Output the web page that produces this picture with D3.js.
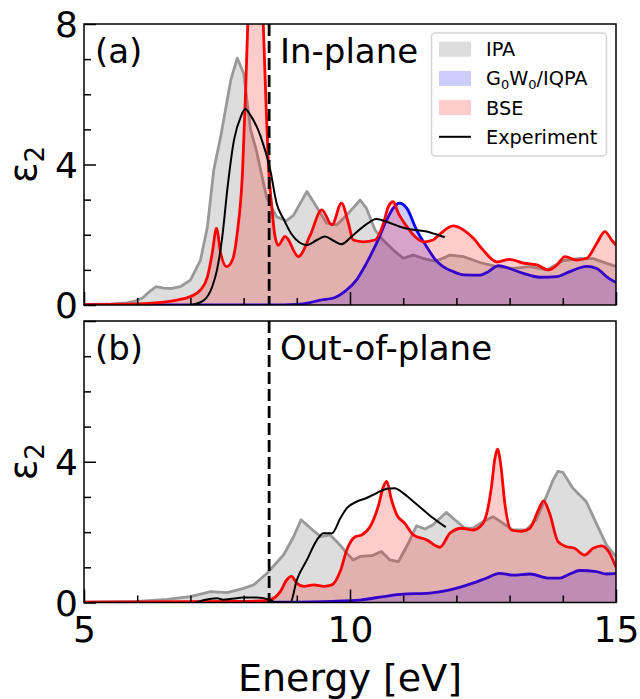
<!DOCTYPE html>
<html>
<head>
<meta charset="utf-8">
<script src="https://cdn.jsdelivr.net/npm/d3@7"></script>
<style>
  html, body { margin: 0; padding: 0; background: #fff; }
  svg { display: block; font-family: "DejaVu Sans", sans-serif; }
</style>
</head>
<body>
<svg id="chart" width="640" height="699"></svg>
<script>
// ---------------- DATA ----------------
const xTickLabels = [5, 10, 15];
const yTickLabels = [0, 4, 8];
const seriesNames = ["IPA", "G0W0/IQPA", "BSE", "Experiment"];
const panelTitles = ["In-plane", "Out-of-plane"];
const panelTags = ["(a)", "(b)"];
const gapEnergy = 8.48;

// (a) In-plane
const ipaIn = [[5.0,0.02],[5.5,0.03],[5.8,0.06],[5.94,0.1],[6.1,0.2],[6.19,0.33],[6.35,0.52],[6.5,0.48],[6.65,0.47],[6.81,0.52],[7.0,0.71],[7.19,1.28],[7.32,2.23],[7.44,3.85],[7.57,4.8],[7.76,6.41],[7.88,7.03],[8.0,6.6],[8.13,5.0],[8.24,4.4],[8.43,3.08],[8.62,2.51],[8.81,2.4],[8.94,2.56],[9.19,3.23],[9.37,2.8],[9.56,2.33],[9.75,2.28],[9.94,2.56],[10.19,2.99],[10.31,2.75],[10.47,2.14],[10.62,1.85],[10.81,1.57],[11.0,1.33],[11.19,1.42],[11.37,1.33],[11.5,1.28],[11.62,1.25],[11.88,1.42],[12.13,1.38],[12.44,1.21],[12.76,1.09],[13.07,1.04],[13.38,1.09],[13.7,1.0],[14.0,1.26],[14.32,1.33],[14.57,1.32],[14.8,1.2],[15.0,1.1]];
const gwIn = [[5.0,0.0],[8.5,0.0],[9.0,0.02],[9.25,0.07],[9.44,0.14],[9.69,0.2],[9.94,0.43],[10.12,0.71],[10.31,1.19],[10.5,1.76],[10.69,2.42],[10.81,2.75],[10.93,2.9],[11.07,2.75],[11.25,2.14],[11.44,1.66],[11.6,1.3],[11.75,1.09],[11.94,0.95],[12.13,0.86],[12.44,0.85],[12.6,0.95],[12.79,1.12],[13.0,1.04],[13.26,0.9],[13.57,0.79],[13.89,0.81],[14.13,0.95],[14.45,1.1],[14.64,1.04],[14.82,0.81],[15.0,0.64]];
const bseIn = [[5.0,0.01],[6.0,0.03],[6.5,0.08],[6.75,0.14],[7.0,0.24],[7.19,0.43],[7.32,0.8],[7.41,1.47],[7.49,2.18],[7.57,1.47],[7.68,1.09],[7.79,1.28],[7.88,2.04],[7.98,3.8],[8.04,6.2],[8.1,9.0],[8.17,11.5],[8.24,12.0],[8.31,10.5],[8.37,8.0],[8.42,5.8],[8.47,3.9],[8.53,2.8],[8.58,2.05],[8.65,1.7],[8.78,1.95],[9.03,1.38],[9.25,1.98],[9.47,2.71],[9.66,2.28],[9.84,2.9],[9.97,2.33],[10.06,1.85],[10.25,1.8],[10.47,1.85],[10.63,2.33],[10.72,2.8],[10.81,2.94],[10.91,2.61],[11.07,2.23],[11.22,1.95],[11.39,1.8],[11.56,1.85],[11.69,2.02],[11.94,2.25],[12.13,2.14],[12.32,1.9],[12.5,1.57],[12.76,1.23],[13.0,1.3],[13.26,1.19],[13.51,1.14],[13.73,1.0],[13.89,1.14],[14.04,1.38],[14.26,1.28],[14.45,1.33],[14.64,1.76],[14.79,2.09],[14.92,1.85],[15.0,1.7]];
const expIn = [[7.0,0.0],[7.1,0.03],[7.26,0.14],[7.41,0.52],[7.5,1.0],[7.6,1.95],[7.7,3.37],[7.82,4.7],[7.95,5.37],[8.03,5.58],[8.13,5.4],[8.32,4.8],[8.5,3.85],[8.62,2.9],[8.75,2.45],[8.9,2.02],[9.05,1.78],[9.19,1.71],[9.38,1.85],[9.53,1.95],[9.69,1.83],[9.84,1.73],[10.03,1.95],[10.25,2.23],[10.5,2.45],[10.69,2.37],[10.94,2.23],[11.19,2.14],[11.44,2.09],[11.6,2.02],[11.78,1.93]];

// (b) Out-of-plane
const ipaOut = [[5.0,0.01],[6.0,0.03],[6.56,0.09],[7.0,0.17],[7.38,0.31],[7.69,0.28],[8.0,0.4],[8.19,0.5],[8.44,0.83],[8.75,1.35],[8.94,1.87],[9.08,2.35],[9.26,2.11],[9.45,1.87],[9.63,1.92],[9.82,1.62],[9.94,1.4],[10.06,1.21],[10.19,1.31],[10.41,1.33],[10.59,1.45],[10.75,1.21],[10.91,1.16],[11.1,1.69],[11.25,2.18],[11.41,2.09],[11.56,2.21],[11.81,2.56],[11.97,2.35],[12.16,2.11],[12.31,2.11],[12.5,2.3],[12.69,2.44],[12.88,2.25],[13.06,2.06],[13.31,2.06],[13.5,2.35],[13.69,3.01],[13.82,3.49],[13.91,3.73],[14.0,3.7],[14.19,3.25],[14.44,2.87],[14.63,2.25],[14.82,1.64],[15.0,1.3]];
const gwOut = [[5.0,0.0],[9.0,0.01],[10.0,0.05],[10.19,0.07],[10.63,0.17],[11.0,0.24],[11.44,0.26],[11.88,0.36],[12.31,0.55],[12.56,0.69],[12.81,0.83],[13.06,0.78],[13.38,0.81],[13.75,0.69],[13.94,0.69],[14.13,0.81],[14.32,0.91],[14.63,0.88],[14.82,0.81],[15.0,0.83]];
const bseOut = [[5.0,0.01],[8.0,0.03],[8.47,0.07],[8.69,0.31],[8.81,0.64],[8.9,0.74],[9.0,0.55],[9.13,0.46],[9.32,0.5],[9.51,0.46],[9.66,0.5],[9.82,0.9],[9.94,1.5],[10.1,1.87],[10.22,1.92],[10.38,2.16],[10.53,2.73],[10.63,3.3],[10.69,3.44],[10.78,2.92],[10.88,2.49],[11.03,2.25],[11.19,1.92],[11.44,1.78],[11.69,1.57],[11.88,1.97],[12.1,2.11],[12.31,2.06],[12.5,2.25],[12.66,3.3],[12.72,4.06],[12.77,4.36],[12.83,3.96],[12.91,2.82],[13.03,2.06],[13.22,2.02],[13.38,2.11],[13.53,2.59],[13.64,2.89],[13.75,2.54],[13.91,1.73],[14.06,1.59],[14.22,1.54],[14.41,1.35],[14.57,1.54],[14.73,1.61],[14.86,1.45],[15.0,1.0]];
const expOut = [[7.1,0.0],[7.26,0.07],[7.5,0.12],[7.62,0.08],[7.75,0.1],[8.0,0.14],[8.25,0.14],[8.5,0.07],[8.6,0.0],[8.88,0.0],[9.0,0.64],[9.19,1.21],[9.38,1.78],[9.5,1.97],[9.66,1.97],[9.82,2.4],[9.94,2.68],[10.13,2.87],[10.31,2.97],[10.5,3.11],[10.69,3.23],[10.84,3.25],[11.0,3.11],[11.19,2.87],[11.38,2.63],[11.56,2.4],[11.8,2.14]];

// ---------------- LAYOUT ----------------
const svg = d3.select("#chart");
const left = 84, right = 616;
const panels = [
  { top: 24, bottom: 305, ipa: ipaIn, gw: gwIn, bse: bseIn, exp: expIn, tag: panelTags[0], title: panelTitles[0], showX: false, yLabels: [0,4,8] },
  { top: 321, bottom: 602.5, ipa: ipaOut, gw: gwOut, bse: bseOut, exp: expOut, tag: panelTags[1], title: panelTitles[1], showX: true, yLabels: [0,4] }
];

const x = d3.scaleLinear().domain([5, 15]).range([left, right]);
const colors = {
  ipaFill: "rgba(128,128,128,0.27)", ipaLine: "#999999",
  gwFill: "rgba(0,0,255,0.2)", gwLine: "#0000ff",
  bseFill: "rgba(255,0,0,0.2)", bseLine: "#ff0000",
  exp: "#000000"
};

panels.forEach((p, i) => {
  const y = d3.scaleLinear().domain([0, 8]).range([p.bottom, p.top]);
  const clipId = "clip" + i;
  svg.append("clipPath").attr("id", clipId)
    .append("rect").attr("x", left).attr("y", p.top).attr("width", right - left).attr("height", p.bottom - p.top);

  const g = svg.append("g").attr("clip-path", `url(#${clipId})`);
  const area = (c) => d3.area().x(d => x(d[0])).y0(y(0)).y1(d => y(d[1])).curve(c);
  const line = (c) => d3.line().x(d => x(d[0])).y(d => y(d[1])).curve(c);

  // IPA
  g.append("path").datum(p.ipa).attr("d", area(d3.curveLinear)).attr("fill", colors.ipaFill);
  g.append("path").datum(p.ipa).attr("d", line(d3.curveLinear)).attr("fill", "none").attr("stroke", colors.ipaLine).attr("stroke-width", 2.8).attr("stroke-linejoin", "round");
  // G0W0
  g.append("path").datum(p.gw).attr("d", area(d3.curveMonotoneX)).attr("fill", colors.gwFill);
  g.append("path").datum(p.gw).attr("d", line(d3.curveMonotoneX)).attr("fill", "none").attr("stroke", colors.gwLine).attr("stroke-width", 2.8);
  // BSE
  g.append("path").datum(p.bse).attr("d", area(d3.curveMonotoneX)).attr("fill", colors.bseFill);
  g.append("path").datum(p.bse).attr("d", line(d3.curveMonotoneX)).attr("fill", "none").attr("stroke", colors.bseLine).attr("stroke-width", 2.8);
  // Experiment
  g.append("path").datum(p.exp).attr("d", line(d3.curveMonotoneX)).attr("fill", "none").attr("stroke", colors.exp).attr("stroke-width", 2);

  // gap dashed line
  g.append("line").attr("x1", x(gapEnergy)).attr("x2", x(gapEnergy)).attr("y1", p.top).attr("y2", p.bottom)
    .attr("stroke", "#000").attr("stroke-width", 2.8).attr("stroke-dasharray", "12,5");

  // axes: inward ticks
  const xMinor = svg.append("g").attr("transform", `translate(0,${p.bottom})`)
    .call(d3.axisBottom(x).tickValues(d3.range(6, 15, 1).filter(v => v !== 10)).tickSize(-7).tickFormat(""));
  const xMajor = svg.append("g").attr("transform", `translate(0,${p.bottom})`)
    .call(d3.axisBottom(x).tickValues(xTickLabels).tickSize(-13).tickPadding(20).tickFormat(p.showX ? d3.format("d") : ""));
  const yMinor = svg.append("g").attr("transform", `translate(${left},0)`)
    .call(d3.axisLeft(y).tickValues([1,2,3,5,6,7]).tickSize(-7).tickFormat(""));
  const yMajor = svg.append("g").attr("transform", `translate(${left},0)`)
    .call(d3.axisLeft(y).tickValues(yTickLabels).tickSize(-12).tickPadding(19)
      .tickFormat(d => p.yLabels.includes(d) ? d : ""));
  [xMinor, xMajor, yMinor, yMajor].forEach(a => {
    a.select(".domain").remove();
    a.selectAll(".tick line").attr("stroke", "#000").attr("stroke-width", 1.5);
    a.selectAll(".tick text").attr("font-family", "DejaVu Sans").attr("font-size", 36).attr("fill", "#000");
  });
  xMajor.selectAll(".tick text").attr("dy", "0.71em").attr("y", 14);
  yMajor.selectAll(".tick text").attr("x", -6).attr("dy", "0.36em");

  // frame
  svg.append("rect").attr("x", left).attr("y", p.top).attr("width", right - left).attr("height", p.bottom - p.top)
    .attr("fill", "none").attr("stroke", "#000").attr("stroke-width", 1.5);

  // panel texts
  svg.append("text").attr("x", 95).attr("y", p.top + 39).attr("font-size", 34).text(p.tag);
  svg.append("text").attr("x", 280).attr("y", p.top + 39).attr("font-size", 34).text(p.title);

  // y label
  const yl = svg.append("text").attr("transform", `translate(36,${(p.top + p.bottom) / 2}) rotate(-90)`)
    .attr("text-anchor", "middle").attr("font-size", 38);
  yl.append("tspan").text("ε");
  yl.append("tspan").attr("font-size", 26).attr("dy", 8).text("2");
});

// x label
svg.append("text").attr("x", (left + right) / 2).attr("y", 691).attr("text-anchor", "middle")
  .attr("font-size", 38).text("Energy [eV]");

// legend
const lg = svg.append("g");
lg.append("rect").attr("x", 431.5).attr("y", 33).attr("width", 175).attr("height", 123).attr("rx", 4)
  .attr("fill", "rgba(255,255,255,0.8)").attr("stroke", "#d4d4d4").attr("stroke-width", 1.5);
const legItems = [
  { name: seriesNames[0], fill: colors.ipaFill },
  { name: seriesNames[1], fill: colors.gwFill },
  { name: seriesNames[2], fill: colors.bseFill },
  { name: seriesNames[3], line: colors.exp }
];
legItems.forEach((it, k) => {
  const cy = 49.2 + k * 29.2;
  if (it.fill) {
    lg.append("rect").attr("x", 439).attr("y", cy - 7.5).attr("width", 32).attr("height", 15).attr("fill", it.fill);
  } else {
    lg.append("line").attr("x1", 439).attr("x2", 471).attr("y1", cy).attr("y2", cy).attr("stroke", it.line).attr("stroke-width", 2);
  }
  const t = lg.append("text").attr("x", 486).attr("y", cy + 7).attr("font-size", 19.3);
  if (it.name === "G0W0/IQPA") {
    t.append("tspan").text("G");
    t.append("tspan").attr("font-size", 13).attr("dy", 4).text("0");
    t.append("tspan").attr("dy", -4).text("W");
    t.append("tspan").attr("font-size", 13).attr("dy", 4).text("0");
    t.append("tspan").attr("dy", -4).text("/IQPA");
  } else {
    t.text(it.name);
  }
});
</script>
</body>
</html>
